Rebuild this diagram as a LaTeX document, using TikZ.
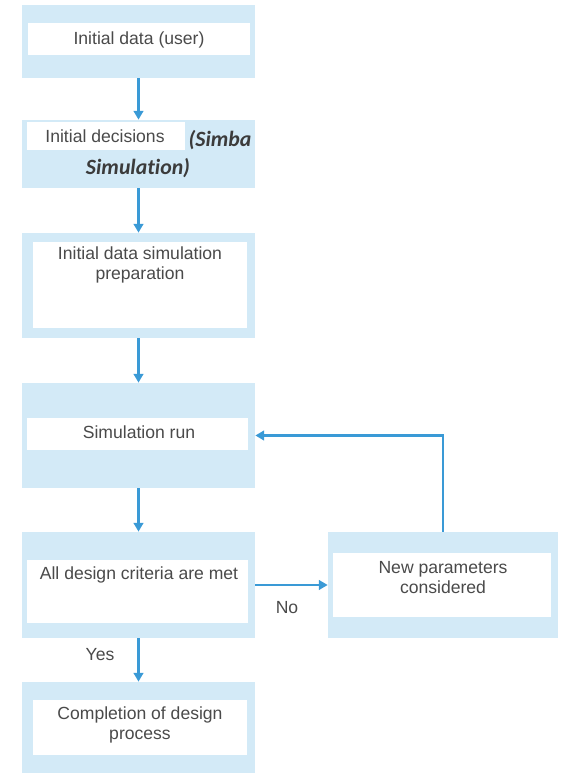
\documentclass[tikz,border=0pt]{standalone}
\usepackage{fontspec}
\setmainfont{Liberation Sans}
\newfontfamily\notefont[Ligatures=NoCommon]{Carlito}
\usetikzlibrary{arrows.meta}
\definecolor{Pale}{HTML}{D3EAF7}
\definecolor{Flow}{HTML}{3A9AD6}
\definecolor{Ink}{HTML}{4A4A4A}
\tikzset{
  outer/.style={fill=Pale,draw=none,minimum width=4.66cm,inner sep=0pt},
  panel/.style={fill=white,draw=none,inner sep=0pt},
  txt/.style={text=Ink,align=center,font=\fontsize{10}{11.4}\selectfont},
  note/.style={text=Ink!80!black,font=\notefont\bfseries\itshape\fontsize{12.4}{14}\selectfont},
  flow/.style={Flow,line width=1.3pt,-{Triangle[length=5pt,width=5.5pt]}}
}

\begin{document}
\begin{tikzpicture}
        \useasboundingbox (0,0) rectangle (11.34,15.5);
        % left column
        \node[outer,minimum height=1.46cm] (o1) at (2.77,14.67) {};
        \node[panel,minimum width=4.44cm,minimum height=0.64cm] (w1) at (2.78,14.72) {};
        \node[txt] (t1) at (2.78,14.70) {Initial data (user)};
        \node[outer,minimum height=1.36cm] (o2) at (2.77,12.42) {};
        \node[panel,minimum width=3.16cm,minimum height=0.56cm] (w2) at (2.12,12.78) {};
        \node[txt] (t2) at (2.10,12.78) {Initial decisions};
        \node[note] (n2a) at (4.40,12.70) {(Simba};
        \node[note] (n2b) at (2.76,12.14) {Simulation)};
        \node[outer,minimum height=2.10cm] (o3) at (2.77,9.79) {};
        \node[panel,minimum width=4.28cm,minimum height=1.72cm] (w3) at (2.80,9.80) {};
        \node[txt] (t3) at (2.80,10.20) {Initial data simulation\\preparation};
        \node[outer,minimum height=2.10cm] (o4) at (2.77,6.79) {};
        \node[panel,minimum width=4.42cm,minimum height=0.64cm] (w4) at (2.75,6.82) {};
        \node[txt] (t4) at (2.78,6.86) {Simulation run};
        \node[outer,minimum height=2.12cm] (o5) at (2.77,3.80) {};
        \node[panel,minimum width=4.42cm,minimum height=1.26cm] (w5) at (2.75,3.67) {};
        \node[txt] (t5) at (2.78,4.00) {All design criteria are met};
        \node[outer,minimum height=1.82cm] (o7) at (2.77,0.95) {};
        \node[panel,minimum width=4.28cm,minimum height=1.10cm] (w7) at (2.80,0.95) {};
        \node[txt] (t7) at (2.80,1.00) {Completion of design\\process};
        % right box
        \node[outer,minimum width=4.60cm,minimum height=2.12cm] (o6) at (8.86,3.80) {};
        \node[panel,minimum width=4.36cm,minimum height=1.28cm] (w6) at (8.84,3.80) {};
        \node[txt] (t6) at (8.86,3.94) {New parameters\\considered};
        % arrows
        \foreach \a/\b in {o1/o2,o2/o3,o3/o4,o4/o5,o5/o7}{\draw[flow] (\a.south) -- (\b.north);}
        \draw[flow] (o5.east) -- (o6.west);
        \draw[flow] (o6.north) |- (o4.east);
        \node[txt] (no) at (5.74,3.34) {No};
        \node[txt] (yes) at (2.00,2.40) {Yes};
      \end{tikzpicture}
\end{document}
